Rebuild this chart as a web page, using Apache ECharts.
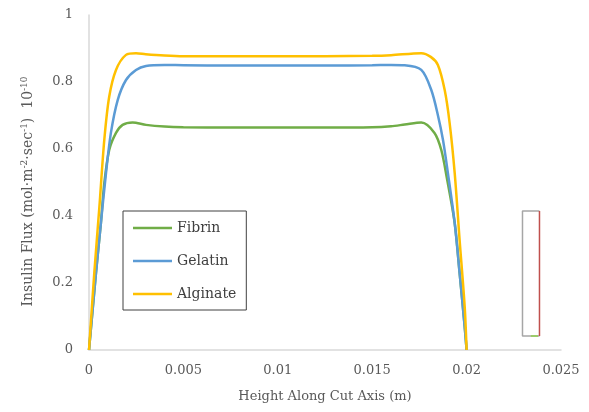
<!DOCTYPE html>
<html>
<head>
<meta charset="utf-8">
<script src="https://cdn.jsdelivr.net/npm/echarts@6/dist/echarts.min.js"></script>
<style>
  html, body { margin: 0; padding: 0; background: #fff; }
  #chart { width: 589px; height: 412px; }
</style>
</head>
<body>
<div id="chart"></div>
<script>
// Insulin flux profiles along the cut axis for three hydrogels
const fibrin = [
  [0, 0], [0.00037, 0.23], [0.00063, 0.379], [0.00081, 0.498], [0.00107, 0.597],
  [0.00143, 0.648], [0.00178, 0.672], [0.00231, 0.679], [0.00302, 0.672],
  [0.004, 0.667], [0.005, 0.665], [0.0075, 0.664], [0.01, 0.664],
  [0.0125, 0.664], [0.015, 0.665], [0.016, 0.668], [0.01672, 0.673],
  [0.0176, 0.679], [0.0183, 0.648], [0.01866, 0.597], [0.01895, 0.515],
  [0.01937, 0.379], [0.01963, 0.23], [0.0199, 0.069], [0.02, 0]
];
const gelatin = [
  [0, 0], [0.00037, 0.23], [0.00063, 0.379], [0.0009, 0.528], [0.00116, 0.648],
  [0.00152, 0.746], [0.00196, 0.806], [0.00249, 0.836], [0.00302, 0.848],
  [0.004, 0.851], [0.005, 0.850], [0.0075, 0.849], [0.01, 0.849],
  [0.0125, 0.849], [0.015, 0.850], [0.016, 0.851], [0.01672, 0.850],
  [0.0176, 0.836], [0.01813, 0.776], [0.01848, 0.701], [0.01875, 0.627],
  [0.01901, 0.528], [0.01937, 0.379], [0.01963, 0.23], [0.0199, 0.069], [0.02, 0]
];
const alginate = [
  [0, 0], [0.00028, 0.23], [0.00055, 0.427], [0.00081, 0.627], [0.00107, 0.756],
  [0.00143, 0.836], [0.00196, 0.881], [0.00249, 0.886], [0.003, 0.883],
  [0.004, 0.879], [0.005, 0.877], [0.0075, 0.877], [0.01, 0.877],
  [0.0125, 0.877], [0.015, 0.878], [0.016, 0.880], [0.0176, 0.886],
  [0.0181, 0.875], [0.01848, 0.851], [0.01884, 0.776], [0.0191, 0.678],
  [0.01937, 0.528], [0.01963, 0.328], [0.0199, 0.128], [0.02, 0]
];

// Small outlined marker drawn to the right of the profiles
const frameGray = [[0.02386, 0.042], [0.02296, 0.042], [0.02296, 0.415], [0.02386, 0.415]];
const frameRed = [[0.02386, 0.415], [0.02386, 0.042]];
const frameGreen = [[0.0234, 0.042], [0.02378, 0.042]];

const seriesNames = ['Fibrin', 'Gelatin', 'Alginate'];
const seriesColors = ['#70ad47', '#5b9bd5', '#ffc000'];

const textColor = '#595959';
const fontFamily = 'DejaVu Serif';

const chart = echarts.init(document.getElementById('chart'), null, { renderer: 'canvas' });

function curve(name, data, color) {
  return {
    name: name, type: 'line', data: data, smooth: 0.3,
    symbol: 'none', lineStyle: { color: color, width: 2.5 }, itemStyle: { color: color },
    z: 3
  };
}
function frameLine(data, color) {
  return {
    type: 'line', data: data, symbol: 'none', silent: true,
    lineStyle: { color: color, width: 1.5 }, z: 2
  };
}

chart.setOption({
  animation: false,
  backgroundColor: '#ffffff',
  grid: { left: 89, right: 28, top: 15, bottom: 62, containLabel: false },
  legend: {
    data: seriesNames,
    orient: 'vertical',
    left: 123, top: 211,
    padding: [9, 10, 8, 10],
    itemGap: 17,
    icon: 'rect',
    itemWidth: 39, itemHeight: 2.5,
    borderColor: '#404040', borderWidth: 1,
    textStyle: { fontFamily: fontFamily, fontSize: 14, lineHeight: 16, color: '#404040' }
  },
  xAxis: {
    type: 'value', min: 0, max: 0.025, interval: 0.005,
    name: 'Height Along Cut Axis (m)',
    nameLocation: 'middle', nameGap: 40,
    nameTextStyle: { fontFamily: fontFamily, fontSize: 13, color: textColor },
    axisLine: { show: true, lineStyle: { color: '#d9d9d9', width: 1.5 } },
    axisTick: { show: false },
    splitLine: { show: false },
    axisLabel: { fontFamily: fontFamily, fontSize: 13, color: textColor, margin: 14 }
  },
  yAxis: {
    type: 'value', min: 0, max: 1, interval: 0.2,
    name: '{b|Insulin Flux (mol·m}{s|-2}{b|·sec}{s|-1}{b|)  10}{s|-10}',
    nameLocation: 'middle', nameGap: 53, nameRotate: 90,
    nameTextStyle: {
      color: textColor,
      padding: [0, 18, 0, 0],
      rich: {
        b: { fontFamily: fontFamily, fontSize: 14, color: textColor },
        s: { fontFamily: fontFamily, fontSize: 9, color: textColor, verticalAlign: 'top', padding: [0, 0, 7, 0] }
      }
    },
    axisLine: { show: true, lineStyle: { color: '#d9d9d9', width: 1.5 } },
    axisTick: { show: false },
    splitLine: { show: false },
    axisLabel: { fontFamily: fontFamily, fontSize: 13, color: textColor, margin: 16 }
  },
  series: [
    frameLine(frameGray, '#a6a6a6'),
    frameLine(frameRed, '#c0504d'),
    frameLine(frameGreen, '#92d050'),
    curve(seriesNames[0], fibrin, seriesColors[0]),
    curve(seriesNames[1], gelatin, seriesColors[1]),
    curve(seriesNames[2], alginate, seriesColors[2])
  ]
});
</script>
</body>
</html>
